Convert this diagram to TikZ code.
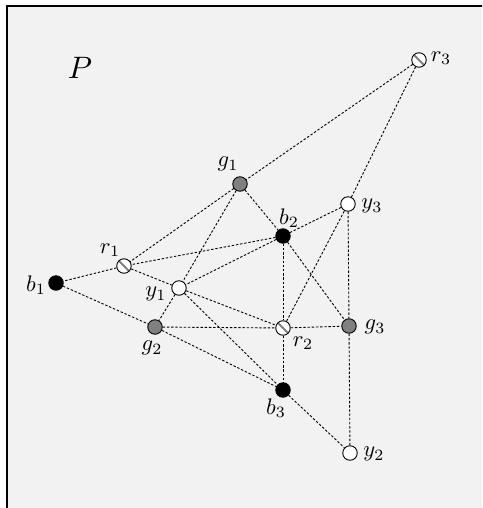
\documentclass[tikz,border=0pt]{standalone}
\usepackage{graphicx}
\newcommand{\lbl}[1]{\scalebox{2.25}{$#1$}}
\begin{document}
\begin{tikzpicture}[x=1pt,y=-1pt,
  vtx/.style={circle,draw=black,line width=0.9pt,minimum size=14.5pt,inner sep=0pt},
  gv/.style={vtx,fill=black!50},
  bv/.style={vtx,fill=black},
  yv/.style={vtx,fill=white},
  rv/.style={vtx,fill=white,path picture={\draw[black!50,line width=2pt] (path picture bounding box.north west) -- (path picture bounding box.south east);}},
  lab/.style={inner sep=0pt},
  ed/.style={line width=0.9pt,dash pattern=on 2.4pt off 1.8pt}]
\useasboundingbox (0,0) rectangle (482,508);
\clip (0,0) rectangle (482,508);
\draw[line width=1.3pt,fill=black!5] (7,6) rectangle (495,520);
\node[inner sep=0pt] (P) at (80,68) {\scalebox{3.1}{$P$}};
% vertex positions
\coordinate (cr3) at (419,60);
\coordinate (cg1) at (240,184);
\coordinate (cy3) at (348,204);
\coordinate (cb2) at (283,236);
\coordinate (cr1) at (124,266);
\coordinate (cb1) at (56,283);
\coordinate (cy1) at (179,288);
\coordinate (cg2) at (155,327);
\coordinate (cr2) at (283,328);
\coordinate (cg3) at (349,326);
\coordinate (cb3) at (283,390);
\coordinate (cy2) at (350,453);
\node[rv] (r3) at (cr3) {};
\node[gv] (g1) at (cg1) {};
\node[yv] (y3) at (cy3) {};
\node[bv] (b2) at (cb2) {};
\node[rv] (r1) at (cr1) {};
\node[bv] (b1) at (cb1) {};
\node[yv] (y1) at (cy1) {};
\node[gv] (g2) at (cg2) {};
\node[rv] (r2) at (cr2) {};
\node[gv] (g3) at (cg3) {};
\node[bv] (b3) at (cb3) {};
\node[yv] (y2) at (cy2) {};
% edges
\draw[ed] (r3) -- (g1);
\draw[ed] (r3) -- (y3);
\draw[ed] (g1) -- (r1);
\draw[ed] (g1) -- (y1);
\draw[ed] (g1) -- (b2);
\draw[ed] (b2) -- (y3);
\draw[ed] (b2) -- (r1);
\draw[ed] (b2) -- (y1);
\draw[ed] (b2) -- (r2);
\draw[ed] (b2) -- (g3);
\draw[ed] (r1) -- (b1);
\draw[ed] (r1) -- (y1);
\draw[ed] (b1) -- (g2);
\draw[ed] (y1) -- (g2);
\draw[ed] (y1) -- (r2);
\draw[ed] (y1) -- (b3);
\draw[ed] (g2) -- (r2);
\draw[ed] (g2) -- (b3);
\draw[ed] (r2) -- (g3);
\draw[ed] (r2) -- (b3);
\draw[ed] (r2) -- (y3);
\draw[ed] (y3) -- (g3);
\draw[ed] (g3) -- (y2);
\draw[ed] (b3) -- (y2);
% labels
\node[lab] (lr3) at (441,58) {\lbl{r_3}};
\node[lab] (lg1) at (228,164) {\lbl{g_1}};
\node[lab] (ly3) at (372,206) {\lbl{y_3}};
\node[lab] (lb2) at (289,218) {\lbl{b_2}};
\node[lab] (lr1) at (110,250) {\lbl{r_1}};
\node[lab] (lb1) at (36,285) {\lbl{b_1}};
\node[lab] (ly1) at (156,294) {\lbl{y_1}};
\node[lab] (lg2) at (152,348) {\lbl{g_2}};
\node[lab] (lr2) at (303,343) {\lbl{r_2}};
\node[lab] (lg3) at (375,327) {\lbl{g_3}};
\node[lab] (lb3) at (276,408) {\lbl{b_3}};
\node[lab] (ly2) at (374,454) {\lbl{y_2}};
\end{tikzpicture}
\end{document}
